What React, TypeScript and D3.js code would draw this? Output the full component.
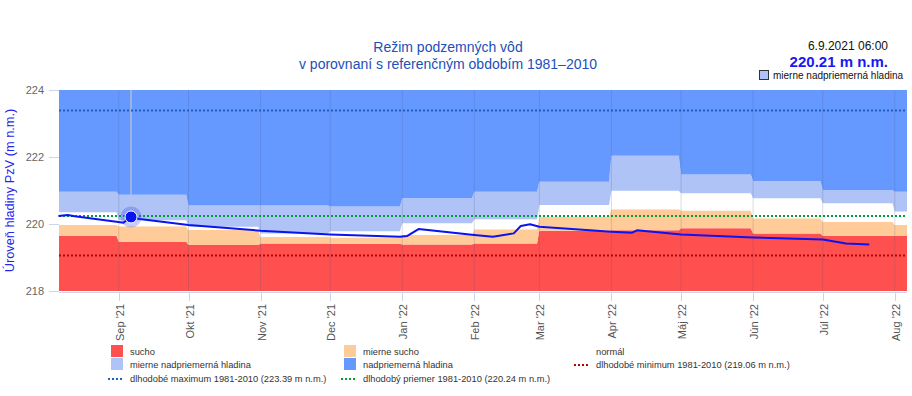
import React from 'react';
import * as d3 from 'd3';

// monthly reference bands (upper boundary of each class)
const bandMonths = ['2021-08-01', '2021-09-01', '2021-10-01', '2021-11-01', '2021-12-01', '2022-01-01', '2022-02-01', '2022-03-01', '2022-04-01', '2022-05-01', '2022-06-01', '2022-07-01', '2022-08-01'];
const suchoTop = [219.65, 219.47, 219.37, 219.42, 219.41, 219.39, 219.42, 219.80, 219.81, 219.87, 219.72, 219.65, 219.65];
const mierneSuchoTop = [219.97, 219.93, 219.82, 219.62, 219.60, 219.67, 219.84, 220.22, 220.44, 220.40, 220.17, 220.07, 219.97];
const normalTop = [220.35, 220.11, 219.92, 219.72, 219.78, 220.02, 220.14, 220.57, 220.99, 220.92, 220.77, 220.62, 220.37];
const mierneNadTop = [220.96, 220.87, 220.55, 220.55, 220.52, 220.77, 220.96, 221.26, 222.04, 221.48, 221.28, 221.01, 220.96];

// observed groundwater level
const levelDates = ['2021-08-06', '2021-08-10', '2021-08-13', '2021-08-31', '2021-09-03', '2021-09-06T06:00', '2021-09-10', '2021-10-01', '2021-11-01', '2021-12-01', '2021-12-31', '2022-01-03', '2022-01-08', '2022-02-01', '2022-02-09', '2022-02-18', '2022-02-21', '2022-02-25', '2022-03-01', '2022-04-01', '2022-04-10', '2022-04-12', '2022-05-01', '2022-06-01', '2022-07-01', '2022-07-11', '2022-07-21'];
const levelValues = [220.24, 220.27, 220.23, 220.07, 220.04, 220.21, 220.15, 219.97, 219.80, 219.69, 219.62, 219.64, 219.85, 219.67, 219.62, 219.72, 219.94, 219.99, 219.92, 219.77, 219.74, 219.81, 219.69, 219.60, 219.54, 219.42, 219.39];

const longMax = 223.39;
const longAvg = 220.24;
const longMin = 219.06;

const markerDate = '2021-09-06T06:00';
const markerValue = 220.21;

const tickMonths = ['2021-09-01', '2021-10-01', '2021-11-01', '2021-12-01', '2022-01-01', '2022-02-01', '2022-03-01', '2022-04-01', '2022-05-01', '2022-06-01', '2022-07-01', '2022-08-01'];
const tickLabels = ["Sep '21", "Okt '21", "Nov '21", "Dec '21", "Jan '22", "Feb '22", "Mar '22", "Apr '22", "Máj '22", "Jún '22", "Júl '22", "Aug '22"];
const yTicks = [218, 220, 222, 224];

const FONT = "'Liberation Sans', Arial, sans-serif";
const C = {
  sucho: '#ff5050',
  mSucho: '#ffcc99',
  normal: '#ffffff',
  mNad: '#b0c3f6',
  nad: '#6699ff',
};

const W = 912, H = 396;
const plot = { left: 59, right: 907, top: 90, bottom: 291 };

const parse = (s: string) => new Date(s + (s.length === 10 ? 'T00:00' : ''));

const App: React.FC = () => {
  const start = parse('2021-08-06T06:00');
  const end = parse('2022-08-06T06:00');
  const x = d3.scaleTime().domain([start, end]).range([plot.left, plot.right]);
  const y = d3.scaleLinear().domain([218, 224]).range([plot.bottom, plot.top]);

  // step points for the bands, a 1-day ramp at each month change
  const bandPts: { date: Date; i: number }[] = [];
  bandMonths.forEach((m, i) => {
    const ms = parse(m);
    const next = d3.timeMonth.offset(ms, 1);
    const a = ms < start ? start : ms;
    const bEnd = d3.timeDay.offset(next, -1);
    const b = bEnd > end ? end : bEnd;
    bandPts.push({ date: a, i }, { date: b, i });
  });

  const bands = [
    { color: C.sucho, lo: (i: number) => 218, hi: (i: number) => suchoTop[i] },
    { color: C.mSucho, lo: (i: number) => suchoTop[i], hi: (i: number) => mierneSuchoTop[i] },
    { color: C.normal, lo: (i: number) => mierneSuchoTop[i], hi: (i: number) => normalTop[i] },
    { color: C.mNad, lo: (i: number) => normalTop[i], hi: (i: number) => mierneNadTop[i] },
    { color: C.nad, lo: (i: number) => mierneNadTop[i], hi: (i: number) => 224 },
  ];

  const levelData = levelDates.map((d, i) => ({ date: parse(d), v: levelValues[i] }));
  const line = d3.line<{ date: Date; v: number }>().x(d => x(d.date)).y(d => y(d.v));

  const mx = x(parse(markerDate));
  const my = y(markerValue);
  const sepIdx = 1;

  const legendItems = [
    { label: 'sucho', type: 'rect', color: C.sucho },
    { label: 'mierne sucho', type: 'rect', color: C.mSucho },
    { label: 'normál', type: 'rect', color: C.normal },
    { label: 'mierne nadpriemerná hladina', type: 'rect', color: C.mNad },
    { label: 'nadpriemerná hladina', type: 'rect', color: C.nad },
    { label: 'dlhodobé minimum 1981-2010 (219.06 m n.m.)', type: 'dot', color: '#c00000' },
    { label: 'dlhodobé maximum 1981-2010 (223.39 m n.m.)', type: 'dot', color: '#1f5fbf' },
    { label: 'dlhodobý priemer 1981-2010 (220.24 m n.m.)', type: 'dot', color: '#00a040' },
  ];
  const colX = [108, 341, 574];
  const rowY = [351, 364, 378];

  return (
    <svg width={W} height={H} style={{ position: 'absolute', left: 0, top: 0, fontFamily: FONT }}>
      <rect width={W} height={H} fill="#fff" />

      {/* title */}
      <text x={448} y={52} textAnchor="middle" fontSize={14} fill="#2050b8">Režim podzemných vôd</text>
      <text x={448} y={69} textAnchor="middle" fontSize={14} fill="#2050b8">v porovnaní s referenčným obdobím 1981–2010</text>

      {/* current value box */}
      <text x={888} y={50} textAnchor="end" fontSize={12} fill="#111">6.9.2021 06:00</text>
      <text x={888} y={66.5} textAnchor="end" fontSize={15} fontWeight="bold" fill="#1a1aee">220.21 m n.m.</text>
      <rect x={759.5} y={70.5} width={9} height={9} fill={C.mNad} stroke="#333" strokeWidth={1} />
      <text x={773} y={79} fontSize={10} fill="#111">mierne nadpriemerná hladina</text>

      {/* bands */}
      {bands.map((b, k) => (
        <path key={k} fill={b.color}
          d={d3.area<{ date: Date; i: number }>()
            .x(d => x(d.date)).y0(d => y(b.lo(d.i))).y1(d => y(b.hi(d.i)))(bandPts) || ''} />
      ))}

      {/* vertical grid */}
      {tickMonths.map((m, i) => (
        <line key={i} x1={x(parse(m))} x2={x(parse(m))} y1={plot.top} y2={plot.bottom}
          stroke="rgba(70,80,120,0.2)" strokeWidth={1} />
      ))}

      {/* crosshair */}
      <line x1={mx} x2={mx} y1={plot.top} y2={y(mierneNadTop[sepIdx])} stroke="#d6cdbd" strokeWidth={1} />

      {/* long term lines */}
      {[{ v: longMax, c: '#1f5fbf' }, { v: longAvg, c: '#00a040' }, { v: longMin, c: '#c00000' }].map((l, i) => (
        <line key={i} x1={plot.left} x2={plot.right} y1={y(l.v)} y2={y(l.v)} stroke={l.c} strokeWidth={2} strokeDasharray="2,2" />
      ))}

      {/* level */}
      <path d={line(levelData) || ''} fill="none" stroke="#0a14ee" strokeWidth={2} strokeLinejoin="round" />
      <circle cx={mx} cy={my} r={10.5} fill="#1a30ee" opacity={0.25} />
      <circle cx={mx} cy={my} r={6} fill="#0a14ee" stroke="#fff" strokeWidth={1} />

      {/* y axis */}
      {yTicks.map(t => (
        <g key={t}>
          <line x1={49} x2={plot.left} y1={y(t) + 0.5} y2={y(t) + 0.5} stroke="#ccd6eb" />
          <text x={44} y={y(t) + 4} textAnchor="end" fontSize={11} fill="#666">{t}</text>
        </g>
      ))}
      <text transform={`translate(14,${(plot.top + plot.bottom) / 2}) rotate(-90)`} textAnchor="middle"
        fontSize={12.8} fill="#2424f0">Úroveň hladiny PzV (m n.m.)</text>

      {/* x axis */}
      <line x1={plot.left} x2={plot.right} y1={plot.bottom + 1.5} y2={plot.bottom + 1.5} stroke="#ccd6eb" />
      {tickMonths.map((m, i) => {
        const tx = Math.round(x(parse(m))) + 0.5;
        return (
          <g key={m}>
            <line x1={tx} x2={tx} y1={plot.bottom + 1} y2={plot.bottom + 10} stroke="#ccd6eb" />
            <text transform={`translate(${tx + 4},304) rotate(-90)`} textAnchor="end" fontSize={11} fill="#555">{tickLabels[i]}</text>
          </g>
        );
      })}

      {/* legend */}
      {legendItems.map((it, i) => {
        const cx = colX[i % 3];
        const cy = rowY[Math.floor(i / 3)];
        return (
          <g key={i}>
            {it.type === 'rect'
              ? <rect x={cx + 3} y={cy - 6} width={12} height={12} fill={it.color} />
              : <line x1={cx} x2={cx + 14} y1={cy + 1} y2={cy + 1} stroke={it.color} strokeWidth={2} strokeDasharray="2,2" />}
            <text x={cx + 22} y={cy + 4} fontSize={9.3} fill="#333">{it.label}</text>
          </g>
        );
      })}
    </svg>
  );
};

export default App;
